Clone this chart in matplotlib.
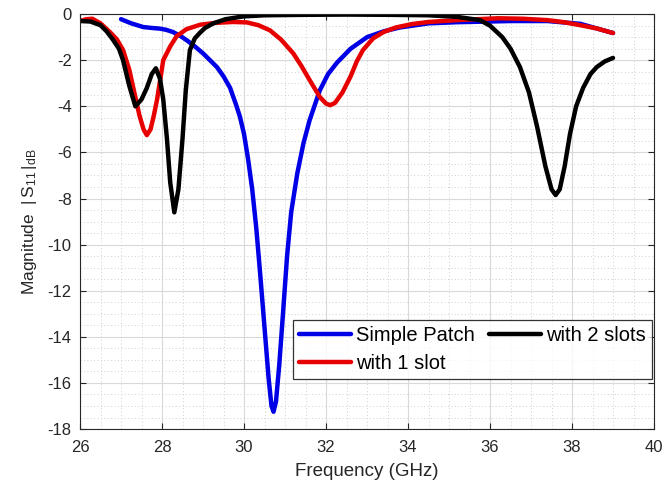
import matplotlib
matplotlib.use('Agg')
import matplotlib.pyplot as plt
from matplotlib.ticker import MultipleLocator

# Reflection coefficient |S11| (dB) of the patch antenna variants
freq_patch = [27.0, 27.25, 27.54, 27.75, 27.95, 28.1, 28.27, 28.45, 28.6, 28.8, 29.0, 29.17,
              29.34, 29.5, 29.66, 29.8, 29.9, 30.0, 30.1, 30.2, 30.3, 30.4, 30.5, 30.6,
              30.67, 30.72, 30.78, 30.86, 30.95, 31.05, 31.15, 31.3, 31.45, 31.6, 31.85,
              32.05, 32.27, 32.6, 33.0, 33.4, 33.8, 34.5, 35.2, 35.75, 36.5, 37.4, 38.2,
              39.0]
s11_patch = [-0.22, -0.4, -0.56, -0.6, -0.63, -0.68, -0.78, -0.95, -1.13, -1.4, -1.7, -2.0,
             -2.3, -2.7, -3.2, -3.9, -4.45, -5.2, -6.3, -7.6, -9.3, -11.4, -13.6, -15.8,
             -17.0, -17.25, -16.8, -15.2, -13.0, -10.5, -8.6, -6.9, -5.6, -4.6, -3.3,
             -2.6, -2.1, -1.5, -1.0, -0.75, -0.58, -0.4, -0.35, -0.33, -0.3, -0.3, -0.42,
             -0.82]

freq_1slot = [26.0, 26.15, 26.3, 26.5, 26.73, 26.9, 27.05, 27.2, 27.3, 27.45, 27.55, 27.63,
              27.72, 27.8, 27.88, 27.96, 28.03, 28.2, 28.36, 28.6, 28.93, 29.3, 29.73,
              30.07, 30.35, 30.63, 30.9, 31.2, 31.4, 31.6, 31.85, 32.0, 32.1, 32.22, 32.4,
              32.6, 32.75, 32.9, 33.15, 33.4, 33.7, 34.1, 34.5, 35.3, 36.2, 36.8, 37.4,
              37.8, 38.2, 38.6, 39.0]
s11_1slot = [-0.3, -0.22, -0.2, -0.4, -0.78, -1.1, -1.56, -2.4, -3.2, -4.4, -5.0, -5.25,
             -5.0, -4.4, -3.7, -2.8, -2.0, -1.4, -0.95, -0.65, -0.46, -0.38, -0.34,
             -0.36, -0.48, -0.7, -1.1, -1.7, -2.25, -2.86, -3.6, -3.88, -3.95, -3.85, -3.4,
             -2.7, -2.05, -1.56, -1.05, -0.78, -0.58, -0.43, -0.34, -0.25, -0.18, -0.2, -0.26,
             -0.35, -0.48, -0.62, -0.82]

freq_2slot = [26.0, 26.25, 26.5, 26.65, 26.8, 26.95, 27.05, 27.2, 27.35, 27.5, 27.63, 27.75,
              27.85, 27.95, 28.03, 28.12, 28.2, 28.3, 28.4, 28.5, 28.58, 28.68, 28.8,
              28.93, 29.05, 29.25, 29.55, 29.98, 30.5, 31.5, 32.5, 33.5, 34.5, 35.2, 35.75,
              36.0, 36.3, 36.5, 36.73, 36.95, 37.15, 37.35, 37.5, 37.6, 37.7, 37.82, 37.95,
              38.1, 38.27, 38.45, 38.6, 38.8, 39.0]
s11_2slot = [-0.3, -0.32, -0.48, -0.75, -1.1, -1.5, -2.0, -3.1, -4.0, -3.7, -3.2, -2.6,
             -2.35, -2.8, -3.7, -5.4, -7.3, -8.6, -7.6, -5.4, -3.3, -1.56, -1.05,
             -0.8, -0.6, -0.4, -0.22, -0.1, -0.05, -0.03, -0.02, -0.03, -0.05, -0.12, -0.26,
             -0.5, -1.0, -1.5, -2.3, -3.4, -4.9, -6.6, -7.6, -7.85, -7.6, -6.6, -5.2,
             -4.0, -3.2, -2.6, -2.3, -2.05, -1.9]

labels = ['Simple Patch', 'with 1 slot', 'with 2 slots']
colors = ['#0000e6', '#e60000', '#000000']

plt.rcParams['font.family'] = ['Liberation Sans', 'DejaVu Sans']
plt.rcParams['mathtext.fontset'] = 'custom'
plt.rcParams['mathtext.rm'] = 'Liberation Sans'
plt.rcParams['mathtext.it'] = 'Liberation Sans'
plt.rcParams['axes.unicode_minus'] = False

fig = plt.figure(figsize=(6.64, 4.87), dpi=100)
ax = fig.add_axes([0.1205, 0.119, 0.8645, 0.852])

series = [(freq_patch, s11_patch), (freq_1slot, s11_1slot), (freq_2slot, s11_2slot)]
for (f, s), lab, c in zip(series, labels, colors):
    ax.plot(f, s, color=c, lw=3.2, label=lab, solid_joinstyle='round', solid_capstyle='round')

ax.set_xlim(26, 40)
ax.set_ylim(-18, 0)
ax.xaxis.set_major_locator(MultipleLocator(2))
ax.yaxis.set_major_locator(MultipleLocator(2))
ax.xaxis.set_minor_locator(MultipleLocator(0.5))
ax.yaxis.set_minor_locator(MultipleLocator(0.5))

ax.grid(which='major', color='#d9d9d9', lw=0.8)
ax.grid(which='minor', color='#cfcfcf', lw=0.7, ls=(0, (1, 2.5)))
ax.set_axisbelow(True)

ax.tick_params(which='both', direction='in', top=True, right=True, colors='#262626',
               labelsize=12)
ax.tick_params(axis='x', pad=8)
ax.tick_params(axis='y', pad=6)
ax.tick_params(which='major', length=4)
ax.tick_params(which='minor', length=0)
for sp in ax.spines.values():
    sp.set_color('#262626')
    sp.set_linewidth(0.8)

ax.set_xlabel('Frequency (GHz)', fontsize=13.5, color='#262626', labelpad=6)
ax.set_ylabel(r'Magnitude  $|\,\mathrm{S}_{11}\,|_{\mathrm{dB}}$', fontsize=12.5,
              color='#262626', labelpad=6)

leg = ax.legend(ncol=2, loc='lower right', bbox_to_anchor=(0.9965, 0.12), fontsize=14.5,
                frameon=True, fancybox=False, edgecolor='#000000', handlelength=2.6,
                handletextpad=0.25, columnspacing=0.7, borderpad=0.3, labelspacing=0.45,
                borderaxespad=0)
leg.get_frame().set_linewidth(0.9)

fig.savefig('out.png', dpi=100)
